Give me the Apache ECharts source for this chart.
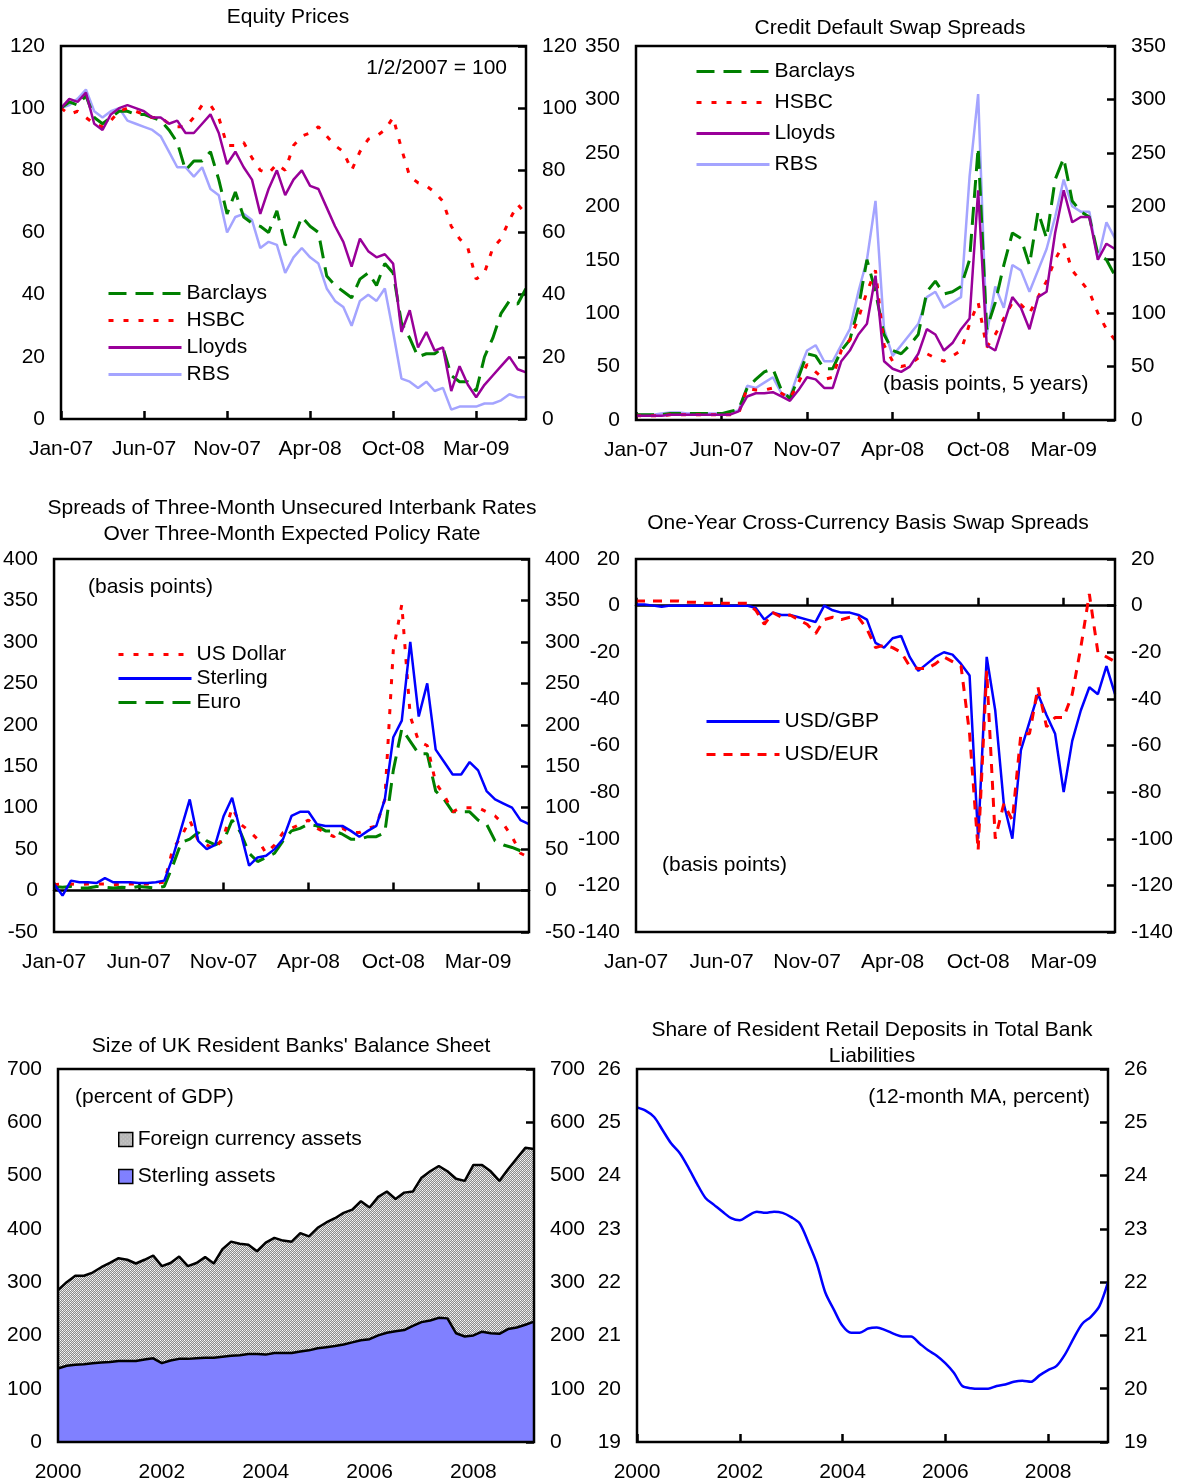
<!DOCTYPE html>
<html>
<head>
<meta charset="utf-8">
<title>UK banks: market and balance sheet indicators</title>
<script src="https://cdn.jsdelivr.net/npm/echarts@6/dist/echarts.min.js"></script>
<style>
html, body { margin:0; padding:0; background:#fff; }
#main { width:1184px; height:1484px; }
</style>
</head>
<body>
<div id="main"></div>
<script>
var FONT = '"Liberation Sans", Arial, sans-serif';
var FS = 21;

// x axes: 2007-09 panels (10 samples between labelled ticks), 2000-09 panels (bi-monthly)
var dailyTicks = ['Jan-07', 'Jun-07', 'Nov-07', 'Apr-08', 'Oct-08', 'Mar-09'];
var dailyStep = 10;
var dailyCount = 57;
var yearTicks = ['2000', '2002', '2004', '2006', '2008'];
var yearStep = 12;
var yearCount = 56;

// Equity prices (1/2/2007 = 100)
var eqBarclays = [100,102,101,104,97,95,97,99,99,98, 98,97,96,93,89,80,83,83,86,77, 66,73,65,63,62,60,67,56,58,65, 62,60,46,43,41,39,45,47,43,50, 47,31,26,20,21,21,23,14,12,12, 9,20,26,34,38,37,42];
var eqHSBC = [100,98,99,97,95,94,96,99,100,99, 98,97,97,95,94,94,97,101,101,97, 88,88,89,84,80,79,82,80,88,91, 92,94,91,88,86,80,86,90,91,93, 97,87,78,76,75,73,70,62,58,55, 45,47,55,58,64,69,66];
var eqLloyds = [100,103,102,105,95,93,98,100,101,100, 99,97,97,95,96,92,92,95,98,92, 82,86,81,77,66,74,80,72,77,80, 75,74,68,62,57,49,58,54,52,53, 50,28,35,23,28,22,23,9,17,11, 7,11,14,17,20,16,15];
var eqRBS = [100,101,103,106,99,97,99,100,96,95, 94,93,91,86,81,81,78,81,74,72, 60,65,66,64,55,57,56,47,52,55, 52,50,42,38,36,30,38,40,38,42, 28,13,12,10,12,9,10,3,4,4, 4,5,5,6,8,7,7];

// CDS spreads (basis points, 5 years)
var cdsBarclays = [5,5,5,5,6,6,6,6,6,6, 6,8,10,30,38,45,48,28,20,40, 62,60,48,48,65,75,105,150,120,80, 65,62,70,80,120,130,118,120,125,150, 255,85,110,145,175,170,145,195,170,225, 245,205,195,190,155,150,135];
var cdsHSBC = [4,4,4,4,5,5,5,5,5,5, 5,5,6,30,28,28,30,25,20,35, 52,45,38,40,65,75,95,120,140,70, 55,50,52,58,62,58,55,60,65,90, 110,68,80,95,110,108,100,115,130,150, 165,140,130,120,100,85,75];
var cdsLloyds = [4,4,4,4,5,5,5,5,5,5, 5,5,8,22,25,25,26,22,18,28, 40,38,30,30,55,65,80,90,135,55, 48,45,50,62,85,80,65,72,85,95, 215,70,65,90,115,105,85,115,120,175, 215,185,190,190,150,165,160];
var cdsRBS = [5,5,5,6,7,7,6,6,6,6, 6,7,9,32,30,35,40,25,22,45, 65,70,55,55,70,85,120,150,205,85, 60,70,80,90,115,120,105,110,115,228, 305,80,125,105,145,140,120,140,160,190, 225,200,195,195,150,185,170];

// Three-month interbank spreads over expected policy rate (basis points)
var ibUSD = [7,8,8,7,8,8,8,7,8,8, 8,8,9,10,50,65,85,60,55,50, 65,100,80,72,62,45,55,70,75,80, 85,75,70,65,75,70,70,75,78,110, 290,345,210,180,175,130,115,95,100,100, 100,95,90,80,65,45,40];
var ibGBP = [8,-6,12,10,10,9,15,10,10,10, 9,9,10,12,40,75,110,60,50,55, 90,112,70,30,40,42,50,62,90,95, 95,80,78,78,78,72,65,72,78,110, 185,205,300,210,250,170,155,140,140,155, 145,120,110,105,100,85,80];
var ibEUR = [5,4,5,3,3,5,4,3,4,3, 5,4,3,5,30,58,62,70,60,55, 60,85,70,45,35,40,45,60,72,75, 80,78,72,72,68,62,62,65,65,70, 145,195,180,165,165,120,110,95,95,95, 85,80,60,55,52,48,45];

// One-year cross-currency basis swap spreads (basis points)
var ccyGBP = [0.5,0.5,0,-0.5,0,0,0,0,0,0, 0,0,0,0,-1,-6,-3,-4,-4,-5, -6,-7,0,-2,-3,-3,-4,-6,-16,-18, -14,-13,-22,-28,-25,-22,-20,-21,-25,-30, -100,-22,-45,-85,-100,-62,-50,-38,-47,-55, -80,-58,-45,-35,-38,-26,-38];
var ccyEUR = [2,2,2,2,2,2,1.5,1.5,1,1, 1,1,1,1,-2,-8,-3,-5,-4,-6, -8,-12,-6,-5,-6,-5,-5,-10,-18,-17, -18,-20,-26,-27,-27,-25,-22,-24,-26,-55, -105,-28,-100,-85,-92,-55,-55,-35,-52,-48, -48,-38,-18,5,-20,-22,-24];

// Balance sheet (percent of GDP), bi-monthly from Jan 2000
var bsTotal = [285,300,312,312,318,328,336,345,342,335, 342,350,330,336,348,330,336,347,335,362, 376,372,370,358,374,383,378,376,392,386, 402,412,420,430,436,452,440,460,470,456, 468,470,496,508,518,508,494,490,520,520, 508,490,512,532,552,550];
var bsSterling = [138,143,145,146,148,149,150,152,152,152, 155,157,148,153,156,156,157,158,158,160, 162,163,165,165,164,167,167,167,170,172, 176,178,180,183,187,191,193,200,205,208, 210,218,225,228,233,232,204,198,200,207, 204,203,212,215,220,226];

// Share of resident retail deposits (12-month MA, percent), bi-monthly from Jan 2000
var depShare = [25.28,25.22,25.1,24.85,24.6,24.42,24.15,23.85,23.58,23.45, 23.32,23.2,23.16,23.25,23.32,23.3,23.32,23.3,23.22,23.1, 22.75,22.35,21.8,21.48,21.18,21.05,21.05,21.13,21.15,21.1, 21.03,20.98,20.98,20.85,20.72,20.62,20.48,20.3,20.05,20.01, 20.0,20.0,20.05,20.08,20.13,20.15,20.13,20.25,20.35,20.43, 20.65,20.95,21.22,21.35,21.55,22.0];

function makeCats(labels, step, count) {
  var out = [];
  for (var i = 0; i < count; i++) {
    out.push(i % step === 0 && labels[i / step] ? labels[i / step] : '');
  }
  return out;
}
var dailyCats = makeCats(dailyTicks, dailyStep, dailyCount);
var yearCats = makeCats(yearTicks, yearStep, yearCount);

// grey cross-hatch used for the foreign currency area
function hatchPattern() {
  var c = document.createElement('canvas');
  c.width = 4; c.height = 4;
  var g = c.getContext('2d');
  g.fillStyle = '#e2e2e2';
  g.fillRect(0, 0, 4, 4);
  g.fillStyle = '#8c8c8c';
  [[1,0],[3,0],[0,1],[2,1],[1,2],[3,2],[0,3],[2,3]].forEach(function (p) { g.fillRect(p[0], p[1], 1, 1); });
  g.fillStyle = '#ffffff';
  g.fillRect(0, 0, 1, 1);
  g.fillRect(2, 2, 1, 1);
  return { image: c, repeat: 'repeat' };
}
var hatch = hatchPattern();

var grids = [
  { left: 61, top: 46, width: 465, height: 373 },
  { left: 636, top: 46, width: 479, height: 374 },
  { left: 53, top: 559, width: 476, height: 373 },
  { left: 636, top: 559, width: 479, height: 373 },
  { left: 58, top: 1069, width: 476, height: 373 },
  { left: 637, top: 1069, width: 471, height: 373 }
];
grids.forEach(function (g) {
  g.show = true;
  g.borderColor = '#000';
  g.borderWidth = 2.5;
  g.backgroundColor = 'transparent';
  g.z = 5;
});

function labelStyle(margin) {
  return { color: '#000', fontFamily: FONT, fontSize: FS, margin: margin };
}

// xAxis with labels (and optional ticks) at the bottom of the grid
function xBottom(gi, cats, step, withTicks) {
  var lab = labelStyle(20);
  lab.interval = function (i) { return i % step === 0; };
  return {
    type: 'category', gridIndex: gi, data: cats, boundaryGap: false, position: 'bottom',
    axisLine: { show: false, onZero: false },
    axisTick: { show: withTicks, inside: true, length: 8, interval: function (i) { return i % step === 0; }, lineStyle: { color: '#000', width: 2.5 } },
    axisLabel: lab,
    splitLine: { show: false }
  };
}
// xAxis drawn on the zero line (line + ticks, no labels)
function xZero(gi, cats, step) {
  return {
    type: 'category', gridIndex: gi, data: cats, boundaryGap: false, position: 'bottom',
    axisLine: { show: true, onZero: true, lineStyle: { color: '#000', width: 2.5 } },
    axisTick: { show: true, inside: true, length: 8, interval: function (i) { return i % step === 0; }, lineStyle: { color: '#000', width: 2.5 } },
    axisLabel: { show: false },
    splitLine: { show: false }
  };
}
function yPair(gi, min, max, interval) {
  var left = {
    type: 'value', gridIndex: gi, position: 'left', min: min, max: max, interval: interval,
    axisLine: { show: false }, axisTick: { show: false }, splitLine: { show: false },
    axisLabel: labelStyle(16)
  };
  var right = {
    type: 'value', gridIndex: gi, position: 'right', min: min, max: max, interval: interval,
    axisLine: { show: false },
    axisTick: { show: true, inside: true, length: 8, lineStyle: { color: '#000', width: 2.5 } },
    splitLine: { show: false },
    axisLabel: labelStyle(16)
  };
  return [left, right];
}

var xAxes = [
  xBottom(0, dailyCats, dailyStep, true),
  xBottom(1, dailyCats, dailyStep, true),
  xBottom(2, dailyCats, dailyStep, false),
  xZero(2, dailyCats, dailyStep),
  xBottom(3, dailyCats, dailyStep, false),
  xZero(3, dailyCats, dailyStep),
  xBottom(4, yearCats, yearStep, true),
  xBottom(5, yearCats, yearStep, true)
];
var yAxes = [].concat(
  yPair(0, 0, 120, 20),
  yPair(1, 0, 350, 50),
  yPair(2, -50, 400, 50),
  yPair(3, -140, 20, 20),
  yPair(4, 0, 700, 100),
  yPair(5, 19, 26, 1)
);

var GREEN = '#008000', RED = '#ff0000', PURPLE = '#990099', LIGHTBLUE = '#a4a4ff', BLUE = '#0000ff';
var DASH = [18, 9], DOT = [5, 10], SHORTDASH = [9, 8];

function line(name, data, xi, yi, color, type, width, z) {
  return {
    name: name, type: 'line', xAxisIndex: xi, yAxisIndex: yi, data: data,
    symbol: 'none', z: z || 2,
    lineStyle: { color: color, width: width, type: type },
    itemStyle: { color: color }
  };
}

var series = [
  line('RBS', eqRBS, 0, 0, LIGHTBLUE, 'solid', 2.5, 2),
  line('Barclays', eqBarclays, 0, 0, GREEN, DASH, 3, 3),
  line('HSBC', eqHSBC, 0, 0, RED, DOT, 3, 3),
  line('Lloyds', eqLloyds, 0, 0, PURPLE, 'solid', 2.5, 4),

  line('RBS', cdsRBS, 1, 2, LIGHTBLUE, 'solid', 2.5, 2),
  line('Barclays', cdsBarclays, 1, 2, GREEN, DASH, 3, 3),
  line('HSBC', cdsHSBC, 1, 2, RED, DOT, 3, 3),
  line('Lloyds', cdsLloyds, 1, 2, PURPLE, 'solid', 2.5, 4),

  line('Euro', ibEUR, 2, 4, GREEN, DASH, 3, 3),
  line('US Dollar', ibUSD, 2, 4, RED, DOT, 3, 3),
  line('Sterling', ibGBP, 2, 4, BLUE, 'solid', 2.5, 4),

  line('USD/EUR', ccyEUR, 4, 6, RED, SHORTDASH, 3, 4),
  line('USD/GBP', ccyGBP, 4, 6, BLUE, 'solid', 2.5, 3),

  {
    name: 'Foreign currency assets', type: 'line', xAxisIndex: 6, yAxisIndex: 8, data: bsTotal,
    symbol: 'none', z: 2,
    lineStyle: { color: '#000', width: 2.5 },
    itemStyle: { color: '#b8b8b8' },
    areaStyle: { color: hatch, opacity: 1 }
  },
  {
    name: 'Sterling assets', type: 'line', xAxisIndex: 6, yAxisIndex: 8, data: bsSterling,
    symbol: 'none', z: 3,
    lineStyle: { color: '#000', width: 2.5 },
    itemStyle: { color: '#8080ff' },
    areaStyle: { color: '#8080ff', opacity: 1 }
  },

  {
    name: 'Deposit share', type: 'line', xAxisIndex: 7, yAxisIndex: 10, data: depShare,
    symbol: 'none', smooth: 0.3, z: 3,
    lineStyle: { color: BLUE, width: 2.5 }
  }
];

// line-sample legends: hide the marker that ECharts puts on line icons
function legendAt(left, top, gap, names) {
  return {
    left: left, top: top, orient: 'vertical', padding: 0,
    itemWidth: 73, itemHeight: 14, itemGap: gap,
    selectedMode: false,
    itemStyle: { opacity: 0 },
    lineStyle: { width: 3 },
    textStyle: { color: '#000', fontFamily: FONT, fontSize: FS },
    data: names
  };
}

var legends = [
  legendAt(107, 283, 6, ['Barclays', 'HSBC', 'Lloyds', 'RBS']),
  legendAt(695, 61, 10, ['Barclays', 'HSBC', 'Lloyds', 'RBS']),
  legendAt(117, 644, 3, ['US Dollar', 'Sterling', 'Euro']),
  legendAt(705, 711, 12, ['USD/GBP', 'USD/EUR']),
  {
    left: 118, top: 1129, orient: 'vertical', padding: 0,
    itemWidth: 14, itemHeight: 14, itemGap: 16,
    selectedMode: false,
    textStyle: { color: '#000', fontFamily: FONT, fontSize: FS },
    data: [
      { name: 'Foreign currency assets', icon: 'rect', itemStyle: { color: hatch, borderColor: '#000', borderWidth: 1.5, opacity: 1 } },
      { name: 'Sterling assets', icon: 'rect', itemStyle: { color: '#8080ff', borderColor: '#000', borderWidth: 1.5, opacity: 1 } }
    ]
  }
];

function txt(text, x, y, align) {
  return {
    type: 'text', x: x, y: y, silent: true,
    style: {
      text: text, fill: '#000', font: FS + 'px ' + FONT,
      textAlign: align, textVerticalAlign: 'middle', align: align, verticalAlign: 'middle'
    }
  };
}

var labels = [
  txt('Equity Prices', 288, 17, 'center'),
  txt('Credit Default Swap Spreads', 890, 28, 'center'),
  txt('Spreads of Three-Month Unsecured Interbank Rates', 292, 508, 'center'),
  txt('Over Three-Month Expected Policy Rate', 292, 534, 'center'),
  txt('One-Year Cross-Currency Basis Swap Spreads', 868, 523, 'center'),
  txt("Size of UK Resident Banks' Balance Sheet", 291, 1046, 'center'),
  txt('Share of Resident Retail Deposits in Total Bank', 872, 1030, 'center'),
  txt('Liabilities', 872, 1056, 'center'),
  txt('1/2/2007 = 100', 507, 68, 'right'),
  txt('(basis points, 5 years)', 883, 384, 'left'),
  txt('(basis points)', 88, 587, 'left'),
  txt('(basis points)', 662, 865, 'left'),
  txt('(percent of GDP)', 75, 1097, 'left'),
  txt('(12-month MA, percent)', 1090, 1097, 'right')
];

var myChart = echarts.init(document.getElementById('main'));
myChart.setOption({
  animation: false,
  backgroundColor: '#fff',
  textStyle: { fontFamily: FONT },
  grid: grids,
  xAxis: xAxes,
  yAxis: yAxes,
  legend: legends,
  series: series,
  graphic: labels
});
</script>
</body>
</html>
